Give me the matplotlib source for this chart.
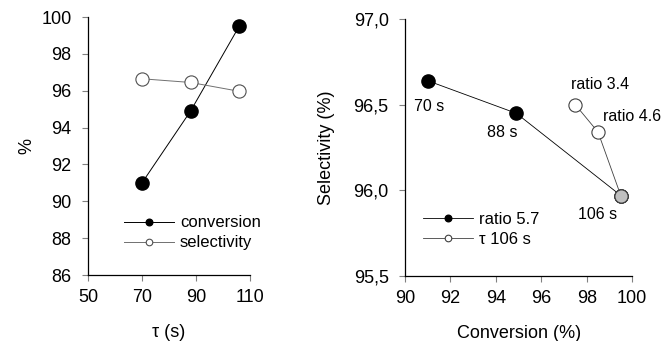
import numpy as np
import matplotlib.pyplot as plt
from matplotlib.ticker import FuncFormatter

plt.rcParams['font.family'] = ['Liberation Sans', 'DejaVu Sans']
plt.rcParams['font.size'] = 12

# left panel: residence time vs conversion / selectivity
tau = [70, 88, 106]
conversion = [91.0, 94.9, 99.5]
selectivity = [96.65, 96.45, 95.97]

# right panel: selectivity vs conversion
conv_r57 = [91.0, 94.9, 99.5]
sel_r57 = [96.64, 96.45, 95.97]
conv_t106 = [97.5, 98.5, 99.5]
sel_t106 = [96.5, 96.34, 95.97]
tau_labels = ['70 s', '88 s', '106 s']
ratio_labels = ['ratio 3.4', 'ratio 4.6']

fig = plt.figure(figsize=(6.64, 3.41), dpi=100)
ax1 = fig.add_axes([0.1325, 0.1935, 0.244, 0.7565])
ax2 = fig.add_axes([0.610, 0.1906, 0.342, 0.7534])

big = 9.5
leg_kw = dict(frameon=False, markerscale=0.5, handlelength=3.0, handletextpad=0.35,
              fontsize=12, labelspacing=0.3, borderpad=0, borderaxespad=0)

ax1.plot(tau, conversion, '-o', color='black', lw=0.7, ms=big, mfc='black', mec='black', label='conversion')
ax1.plot(tau, selectivity, '-o', color='#707070', lw=0.7, ms=big, mfc='white', mec='#505050', mew=0.8, label='selectivity')
ax1.set_xlim(50, 110)
ax1.set_ylim(86, 100)
ax1.set_xticks([50, 70, 90, 110])
ax1.set_yticks(np.arange(86, 101, 2))
ax1.set_xlabel('τ (s)', labelpad=13, fontsize=13)
ax1.set_ylabel('%', labelpad=4, fontsize=13)
ax1.legend(loc='center left', bbox_to_anchor=(0.222, 0.163), **leg_kw)

ax2.plot(conv_r57, sel_r57, '-o', color='black', lw=0.6, ms=big, mfc='black', mec='black', label='ratio 5.7')
ax2.plot(conv_t106, sel_t106, '-o', color='#404040', lw=0.6, ms=big, mfc='white', mec='#404040', mew=0.8, label='τ 106 s')
ax2.plot(conv_r57[-1], sel_r57[-1], 'o', ms=big, mfc='#c0c0c0', mec='#404040', mew=0.8)
ax2.set_xlim(90, 100)
ax2.set_ylim(95.5, 97.0)
ax2.set_xticks(np.arange(90, 101, 2))
ax2.set_yticks([95.5, 96.0, 96.5, 97.0])
ax2.yaxis.set_major_formatter(FuncFormatter(lambda v, p: f'{v:.1f}'.replace('.', ',')))
ax2.set_xlabel('Conversion (%)', labelpad=13, fontsize=13)
ax2.set_ylabel('Selectivity (%)', labelpad=13, fontsize=13)
ax2.legend(loc='center left', bbox_to_anchor=(0.079, 0.181), **leg_kw)

# label spots in data units
tau_lab_xy = [(91.04, 96.49), (94.26, 96.34), (98.47, 95.86)]
for (x, y), s in zip(tau_lab_xy, tau_labels):
    ax2.text(x, y, s, ha='center', va='center', fontsize=11.5)
ratio_lab_xy = [(98.59, 96.62), (100.0, 96.43)]
for (x, y), s in zip(ratio_lab_xy, ratio_labels):
    ax2.text(x, y, s, ha='center', va='center', fontsize=11.5, clip_on=False)

for ax in (ax1, ax2):
    ax.spines['top'].set_visible(False)
    ax.spines['right'].set_visible(False)
    ax.tick_params(direction='out', length=4.3, width=0.8, color='#808080', labelsize=13)
    ax.tick_params(axis='y', pad=7.5)
    ax.tick_params(axis='x', pad=5.5)
    for sp in ax.spines.values():
        sp.set_linewidth(0.9)
    for m in ax.lines:
        m.set_clip_on(False)

fig.savefig('out.png', dpi=100)
